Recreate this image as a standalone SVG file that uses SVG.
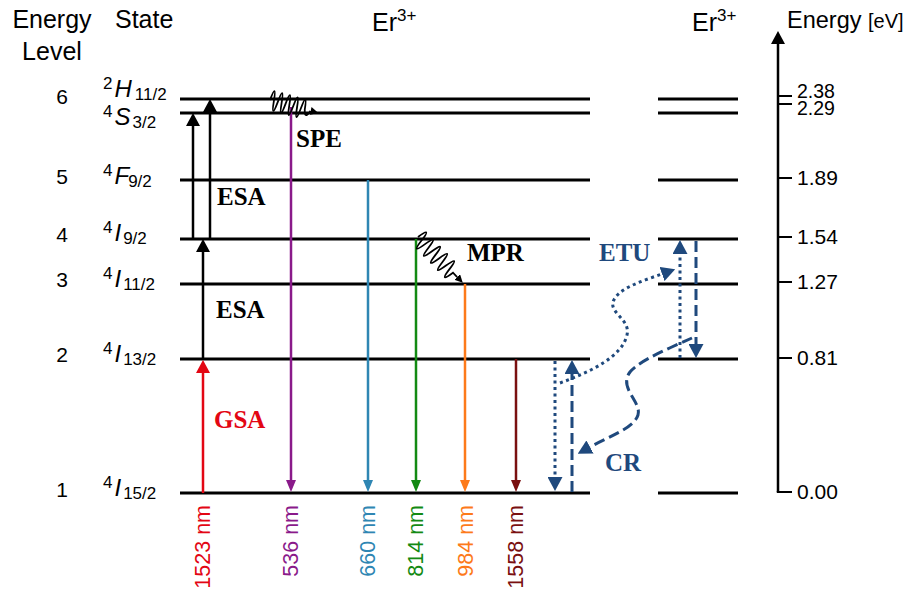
<svg xmlns="http://www.w3.org/2000/svg" width="917" height="597" viewBox="0 0 917 597">
  <style>
    .sans { font-family: "Liberation Sans", Arial, sans-serif; fill: #000; }
    .hdr { font-size: 25px; }
    .num { font-size: 21px; text-anchor: middle; }
    .ev { font-size: 21px; }
    .st { font-size: 24px; font-style: italic; }
    .sm { font-size: 17px; font-style: normal; }
    .bold { font-family: "Liberation Serif", "Times New Roman", serif; font-weight: bold; font-size: 25px; }
    .lvl { stroke: #000; stroke-width: 3; fill: none; }
    .blk { stroke: #000; stroke-width: 2.5; fill: none; }
    .emit { stroke-width: 2.5; fill: none; }
    .blue { stroke: #1f497d; stroke-width: 3; fill: none; }
    .dot { stroke-dasharray: 3 3.5; }
    .dash { stroke-dasharray: 11 5; }
    .wave { stroke: #000; stroke-width: 1.8; fill: none; }
    .wl { font-family: "Liberation Sans", Arial, sans-serif; font-size: 21.5px; text-anchor: end; }
  </style>
  <defs>
    <marker id="ah-k" viewBox="0 -7 13 14" refX="0" refY="0" markerWidth="13" markerHeight="14" markerUnits="userSpaceOnUse" orient="auto">
      <path d="M0,-7 L13,0 L0,7 Z" fill="#000"/>
    </marker>
    <marker id="ah-red" viewBox="0 -7 13 14" refX="0" refY="0" markerWidth="13" markerHeight="14" markerUnits="userSpaceOnUse" orient="auto">
      <path d="M0,-7 L13,0 L0,7 Z" fill="#e30613"/>
    </marker>
    <marker id="ah-pur" viewBox="0 -5 12 10" refX="0" refY="0" markerWidth="12" markerHeight="10" markerUnits="userSpaceOnUse" orient="auto">
      <path d="M0,-5 L12,0 L0,5 Z" fill="#8a1a8a"/>
    </marker>
    <marker id="ah-teal" viewBox="0 -5 12 10" refX="0" refY="0" markerWidth="12" markerHeight="10" markerUnits="userSpaceOnUse" orient="auto">
      <path d="M0,-5 L12,0 L0,5 Z" fill="#2f86b3"/>
    </marker>
    <marker id="ah-grn" viewBox="0 -5 12 10" refX="0" refY="0" markerWidth="12" markerHeight="10" markerUnits="userSpaceOnUse" orient="auto">
      <path d="M0,-5 L12,0 L0,5 Z" fill="#138a13"/>
    </marker>
    <marker id="ah-org" viewBox="0 -5 12 10" refX="0" refY="0" markerWidth="12" markerHeight="10" markerUnits="userSpaceOnUse" orient="auto">
      <path d="M0,-5 L12,0 L0,5 Z" fill="#fd7a1a"/>
    </marker>
    <marker id="ah-drd" viewBox="0 -5 12 10" refX="0" refY="0" markerWidth="12" markerHeight="10" markerUnits="userSpaceOnUse" orient="auto">
      <path d="M0,-5 L12,0 L0,5 Z" fill="#7a1010"/>
    </marker>
    <marker id="ah-blue" viewBox="0 -7.5 14 15" refX="0" refY="0" markerWidth="14" markerHeight="15" markerUnits="userSpaceOnUse" orient="auto">
      <path d="M0,-7.5 L14,0 L0,7.5 Z" fill="#1f497d"/>
    </marker>
    <marker id="ah-w" viewBox="0 -4 8 8" refX="0" refY="0" markerWidth="8" markerHeight="8" markerUnits="userSpaceOnUse" orient="auto">
      <path d="M0,-4 L8,0 L0,4 Z" fill="#000"/>
    </marker>
  </defs>

  <!-- column headers -->
  <g id="headers" class="sans hdr">
    <text x="52" y="28" text-anchor="middle">Energy</text>
    <text x="52" y="60" text-anchor="middle">Level</text>
    <text x="115" y="28">State</text>
    <text x="372" y="31">Er<tspan font-size="17" dy="-10">3+</tspan></text>
    <text x="692" y="31">Er<tspan font-size="17" dy="-10">3+</tspan></text>
  </g>

  <!-- level numbers -->
  <g id="level-numbers" class="sans num">
    <text x="62" y="104">6</text>
    <text x="62" y="184">5</text>
    <text x="62" y="242">4</text>
    <text x="62" y="287">3</text>
    <text x="62" y="362">2</text>
    <text x="62" y="497">1</text>
  </g>

  <!-- term symbols -->
  <g id="states" class="sans st">
    <text x="103" y="97"><tspan class="sm" dy="-8">2</tspan><tspan dx="2" dy="8">H</tspan><tspan class="sm" dx="3" dy="3">11/2</tspan></text>
    <text x="103" y="125"><tspan class="sm" dy="-8">4</tspan><tspan dx="2" dy="8">S</tspan><tspan class="sm" dx="2" dy="3">3/2</tspan></text>
    <text x="103" y="184"><tspan class="sm" dy="-8">4</tspan><tspan dx="2" dy="8">F</tspan><tspan class="sm" dx="-1" dy="3">9/2</tspan></text>
    <text x="103" y="241"><tspan class="sm" dy="-8">4</tspan><tspan dx="2" dy="8">I</tspan><tspan class="sm" dx="2" dy="3">9/2</tspan></text>
    <text x="103" y="287"><tspan class="sm" dy="-8">4</tspan><tspan dx="2" dy="8">I</tspan><tspan class="sm" dx="2" dy="3">11/2</tspan></text>
    <text x="103" y="362"><tspan class="sm" dy="-8">4</tspan><tspan dx="2" dy="8">I</tspan><tspan class="sm" dx="2" dy="3">13/2</tspan></text>
    <text x="103" y="496"><tspan class="sm" dy="-8">4</tspan><tspan dx="2" dy="8">I</tspan><tspan class="sm" dx="2" dy="3">15/2</tspan></text>
  </g>

  <!-- energy levels, first ion -->
  <g id="levels-ion1" class="lvl">
    <line x1="180" y1="99" x2="590" y2="99"/>
    <line x1="180" y1="113" x2="590" y2="113"/>
    <line x1="180" y1="180" x2="590" y2="180"/>
    <line x1="180" y1="239" x2="590" y2="239"/>
    <line x1="180" y1="284" x2="590" y2="284"/>
    <line x1="180" y1="359" x2="590" y2="359"/>
    <line x1="180" y1="493" x2="590" y2="493"/>
  </g>

  <!-- energy levels, second ion -->
  <g id="levels-ion2" class="lvl">
    <line x1="658" y1="99" x2="738" y2="99"/>
    <line x1="658" y1="113" x2="738" y2="113"/>
    <line x1="658" y1="180" x2="738" y2="180"/>
    <line x1="658" y1="239" x2="738" y2="239"/>
    <line x1="658" y1="284" x2="738" y2="284"/>
    <line x1="658" y1="359" x2="738" y2="359"/>
    <line x1="658" y1="493" x2="738" y2="493"/>
  </g>

  <!-- energy axis -->
  <g id="energy-axis">
    <path d="M778,492 V44" stroke="#000" stroke-width="2.5" fill="none" marker-end="url(#ah-k)"/>
    <path d="M792,96 H778 M792,104 H778 M792,178 H778 M792,237 H778 M792,282 H778 M792,358 H778 M792,492 H776.8" stroke="#000" stroke-width="2" fill="none"/>
    <g class="sans ev">
      <text x="787" y="28" font-size="23.5">Energy <tspan font-size="20">[eV]</tspan></text>
      <text x="797" y="98" font-size="19.5">2.38</text>
      <text x="797" y="115" font-size="19.5">2.29</text>
      <text x="797" y="185">1.89</text>
      <text x="797" y="244">1.54</text>
      <text x="797" y="289">1.27</text>
      <text x="797" y="365">0.81</text>
      <text x="797" y="499">0.00</text>
    </g>
  </g>

  <!-- transitions -->
  <g id="connectors">
    <!-- absorption -->
    <path class="blk" d="M193,239 V126" marker-end="url(#ah-k)"/>
    <path class="blk" d="M210,239 V112" marker-end="url(#ah-k)"/>
    <path class="blk" d="M203,359 V252" marker-end="url(#ah-k)"/>
    <path class="emit" stroke="#e30613" stroke-width="2.8" d="M203,493 V373" marker-end="url(#ah-red)"/>
    <!-- emission -->
    <path class="emit" stroke="#8a1a8a" d="M291,107 V480" marker-end="url(#ah-pur)"/>
    <path class="emit" stroke="#2f86b3" d="M368,180 V480" marker-end="url(#ah-teal)"/>
    <path class="emit" stroke="#138a13" d="M416,239 V480" marker-end="url(#ah-grn)"/>
    <path class="emit" stroke="#fd7a1a" d="M465,284 V480" marker-end="url(#ah-org)"/>
    <path class="emit" stroke="#7a1010" d="M516,359 V480" marker-end="url(#ah-drd)"/>
    <!-- non-radiative relaxation -->
    <g transform="translate(270,100) rotate(15)">
      <path class="wave" d="M0,0 c1.3,-13 2.7,-13 4,0 c1.3,13 2.7,13 4,0 c1.3,-13 2.7,-13 4,0 c1.3,13 2.7,13 4,0 c1.3,-13 2.7,-13 4,0 c1.3,13 2.7,13 4,0 c1.3,-13 2.7,-13 4,0 c1.3,13 2.7,13 4,0 c1.3,-13 2.7,-13 4,0 c2,9 4,5 6,0 L42,0" marker-end="url(#ah-w)"/>
    </g>
    <g transform="translate(418,237) rotate(45.6)">
      <path class="wave" d="M0,0 c1.7,-12 3.3,-12 5,0 c1.7,12 3.3,12 5,0 c1.7,-12 3.3,-12 5,0 c1.7,12 3.3,12 5,0 c1.7,-12 3.3,-12 5,0 c1.7,12 3.3,12 5,0 c1.7,-12 3.3,-12 5,0 c1.7,12 3.3,12 5,0 c1.7,-12 3.3,-12 5,0 c1.7,12 3.3,12 5,0 L56,0" marker-end="url(#ah-w)"/>
    </g>
    <!-- energy transfer upconversion / cross relaxation -->
    <path class="blue dot" d="M555,361 V477" marker-end="url(#ah-blue)"/>
    <path class="blue dash" d="M572,492 V374" marker-end="url(#ah-blue)"/>
    <path class="blue dot" d="M680,358 V254" marker-end="url(#ah-blue)"/>
    <path class="blue dash" d="M696,241 V344" marker-end="url(#ah-blue)"/>
    <path class="blue dot" d="M560,383 C590,372 622,357 627,335 C631,318 605,312 615,298 C622,287 645,280 662,274" marker-end="url(#ah-blue)"/>
    <path class="blue dash" d="M692,338 C670,348 640,360 630,372 C618,388 642,402 638,415 C634,428 610,436 590,447" marker-end="url(#ah-blue)"/>
  </g>

  <!-- process labels -->
  <g id="process-labels" class="bold">
    <text x="296" y="147">SPE</text>
    <text x="217" y="205">ESA</text>
    <text x="216" y="318">ESA</text>
    <text x="214" y="428" fill="#e30613">GSA</text>
    <text x="467" y="261">MPR</text>
    <text x="599" y="261" fill="#1f497d">ETU</text>
    <text x="605" y="471" fill="#1f497d">CR</text>
  </g>

  <!-- emission wavelengths -->
  <g id="wavelengths" class="wl">
    <text transform="translate(210,505) rotate(-90)" fill="#e30613">1523 nm</text>
    <text transform="translate(298,505) rotate(-90)" fill="#8a1a8a">536 nm</text>
    <text transform="translate(375,505) rotate(-90)" fill="#2f86b3">660 nm</text>
    <text transform="translate(423,505) rotate(-90)" fill="#138a13">814 nm</text>
    <text transform="translate(473,505) rotate(-90)" fill="#fd7a1a">984 nm</text>
    <text transform="translate(523,505) rotate(-90)" fill="#7a1010">1558 nm</text>
  </g>
</svg>
